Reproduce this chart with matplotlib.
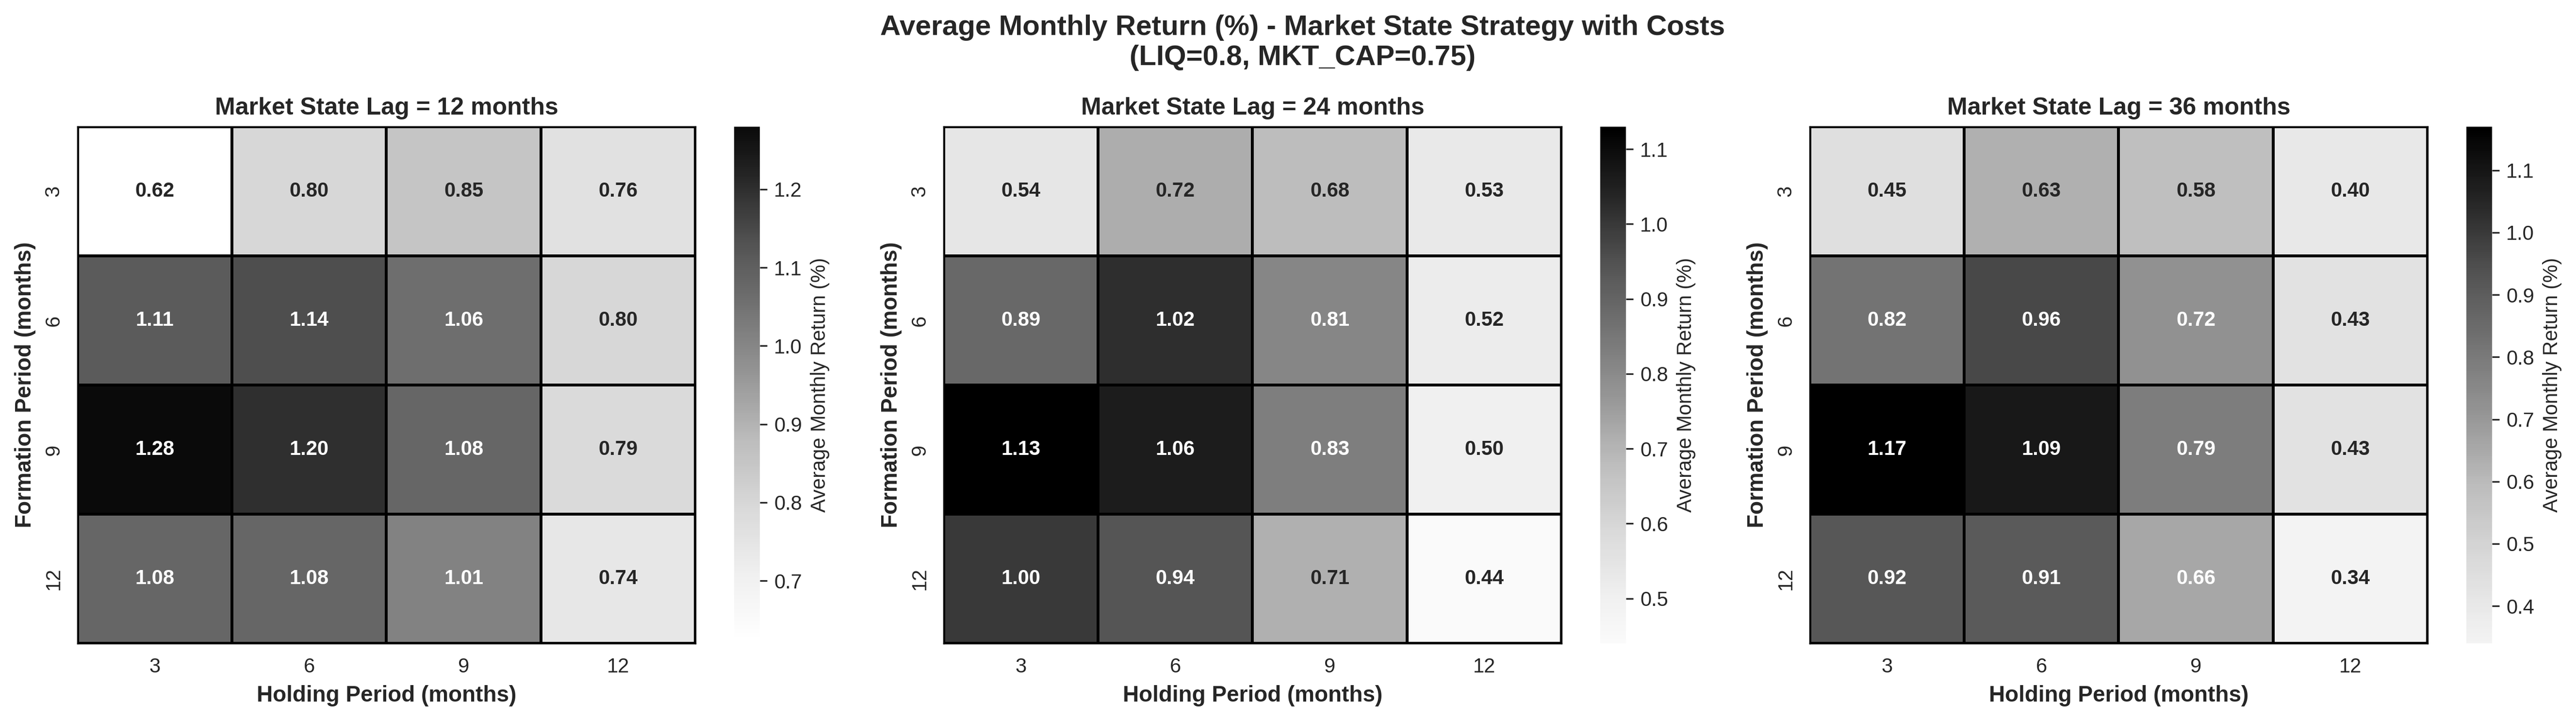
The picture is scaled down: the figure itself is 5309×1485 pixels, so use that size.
import numpy as np
import matplotlib
matplotlib.use("Agg")
import matplotlib.pyplot as plt
import seaborn as sns

sns.set_style("whitegrid")
plt.rcParams['font.family'] = ['Liberation Sans', 'DejaVu Sans']

formation = [3, 6, 9, 12]
holding = [3, 6, 9, 12]
lags = [12, 24, 36]

lag12 = [[0.62, 0.80, 0.85, 0.76],
         [1.11, 1.14, 1.06, 0.80],
         [1.28, 1.20, 1.08, 0.79],
         [1.08, 1.08, 1.01, 0.74]]
lag24 = [[0.54, 0.72, 0.68, 0.53],
         [0.89, 1.02, 0.81, 0.52],
         [1.13, 1.06, 0.83, 0.50],
         [1.00, 0.94, 0.71, 0.44]]
lag36 = [[0.45, 0.63, 0.58, 0.40],
         [0.82, 0.96, 0.72, 0.43],
         [1.17, 1.09, 0.79, 0.43],
         [0.92, 0.91, 0.66, 0.34]]
data = [lag12, lag24, lag36]

fig, axes = plt.subplots(1, 3, figsize=(18, 5))
for ax, lag, d in zip(axes, lags, data):
    arr = np.array(d)
    sns.heatmap(arr, ax=ax, cmap='Greys', center=arr.mean(), annot=True, fmt='.2f',
                annot_kws={'fontsize': 10, 'fontweight': 'bold'},
                linewidths=1, linecolor='black',
                xticklabels=holding, yticklabels=formation,
                cbar_kws={'label': 'Average Monthly Return (%)'})
    ax.set_title(f'Market State Lag = {lag} months', fontsize=12, fontweight='bold')
    ax.set_xlabel('Holding Period (months)', fontsize=11, fontweight='bold')
    ax.set_ylabel('Formation Period (months)', fontsize=11, fontweight='bold')
    ax.tick_params(labelsize=10)
    for s in ax.spines.values():
        s.set_visible(True)
        s.set_color('black')
        s.set_linewidth(0.8)

fig.suptitle('Average Monthly Return (%) - Market State Strategy with Costs\n(LIQ=0.8, MKT_CAP=0.75)',
             fontsize=14, fontweight='bold')
plt.tight_layout()
plt.savefig('out.png', dpi=300, bbox_inches='tight')
